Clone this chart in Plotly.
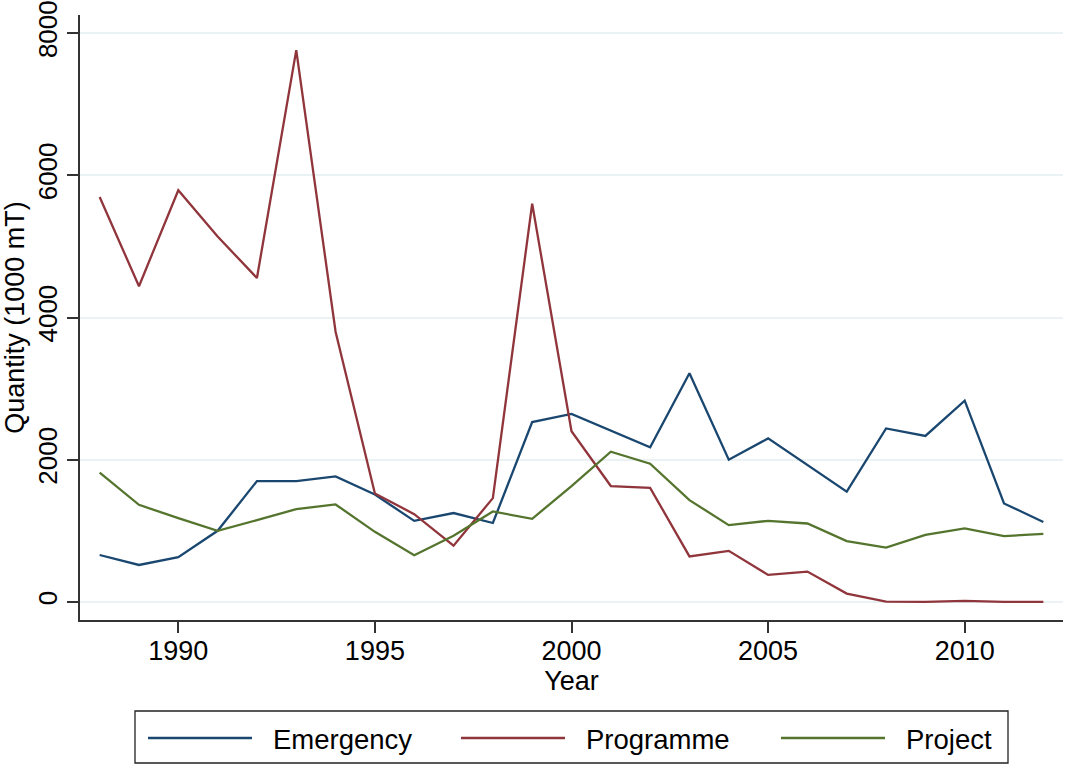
import plotly.graph_objects as go

years = list(range(1988, 2013))
emergency = [660, 520, 630, 1000, 1700, 1700, 1765, 1510, 1140, 1250, 1110, 2530, 2645,
             2415, 2175, 3215, 2000, 2300, 1930, 1550, 2440, 2335, 2830, 1385, 1125]
programme = [5695, 4440, 5790, 5140, 4555, 7760, 3800, 1525, 1235, 790, 1460, 5600, 2400,
             1630, 1605, 640, 718, 380, 427, 117, 5, 0, 14, 0, 0]
project = [1820, 1366, 1178, 1000, 1150, 1305, 1371, 986, 657, 930, 1272, 1169, 1630,
           2113, 1944, 1432, 1080, 1141, 1103, 855, 765, 944, 1033, 925, 958]

series_names = ["Emergency", "Programme", "Project"]
series_colors = ["#1a476f", "#90353b", "#55752f"]
x_ticks = [1990, 1995, 2000, 2005, 2010]
y_ticks = [0, 2000, 4000, 6000, 8000]

FONT = "Liberation Sans, Arial, Helvetica, sans-serif"

W, H = 1066, 766
ML, MR, MT, MB = 80, 3, 15, 146
PW, PH = W - ML - MR, H - MT - MB


def px_x(p):
    return (p - ML) / PW


def px_y(p):
    return (H - MB - p) / PH


fig = go.Figure()
for name, vals, col in zip(series_names, [emergency, programme, project], series_colors):
    fig.add_trace(go.Scatter(x=years, y=vals, mode="lines", name=name, showlegend=False,
                             line=dict(color=col, width=2.3)))

# custom legend (Stata-style boxed, wide key lines)
shapes = [dict(type="rect", xref="paper", yref="paper",
               x0=px_x(135), x1=px_x(1008), y0=px_y(711), y1=px_y(763),
               line=dict(color="#222", width=1.3), fillcolor="white", layer="above")]
annotations = []
key_starts = [148, 461, 781]
for name, col, ks in zip(series_names, series_colors, key_starts):
    shapes.append(dict(type="line", xref="paper", yref="paper",
                       x0=px_x(ks), x1=px_x(ks + 104), y0=px_y(738), y1=px_y(738),
                       line=dict(color=col, width=2.3), layer="above"))
    annotations.append(dict(text=name, xref="paper", yref="paper",
                            x=px_x(ks + 123), y=px_y(739), xanchor="left", yanchor="middle",
                            showarrow=False, font=dict(family=FONT, size=27.5, color="black")))

fig.update_layout(
    width=W, height=H,
    margin=dict(l=ML, r=MR, t=MT, b=MB, autoexpand=False),
    paper_bgcolor="white", plot_bgcolor="white",
    font=dict(family=FONT, size=27, color="black"),
    showlegend=False,
    shapes=shapes, annotations=annotations,
    xaxis=dict(range=[1987.5, 2012.5], tickvals=x_ticks, ticks="outside", ticklen=11,
               tickwidth=1.5, tickcolor="#333", showline=True, linecolor="#333", linewidth=1.5,
               showgrid=False, zeroline=False, automargin=False, ticklabelstandoff=-5,
               title=dict(text="Year", font=dict(size=27), standoff=0),
               tickfont=dict(size=27)),
    yaxis=dict(range=[-254, 8254], tickvals=y_ticks, ticks="outside", ticklen=11,
               tickwidth=1.5, tickcolor="#333", showline=True, linecolor="#333", linewidth=1.5,
               showgrid=True, gridcolor="#eaf2f3", gridwidth=1.5, zeroline=False,
               automargin=False, tickangle=-90, tickfont=dict(size=26), ticklabelstandoff=0,
               title=dict(text="Quantity (1000 mT)", font=dict(size=27), standoff=2)),
)

fig.write_html("out.html", config={"displayModeBar": False},
               post_script="document.body.style.margin='0';document.body.style.overflow='hidden';")
